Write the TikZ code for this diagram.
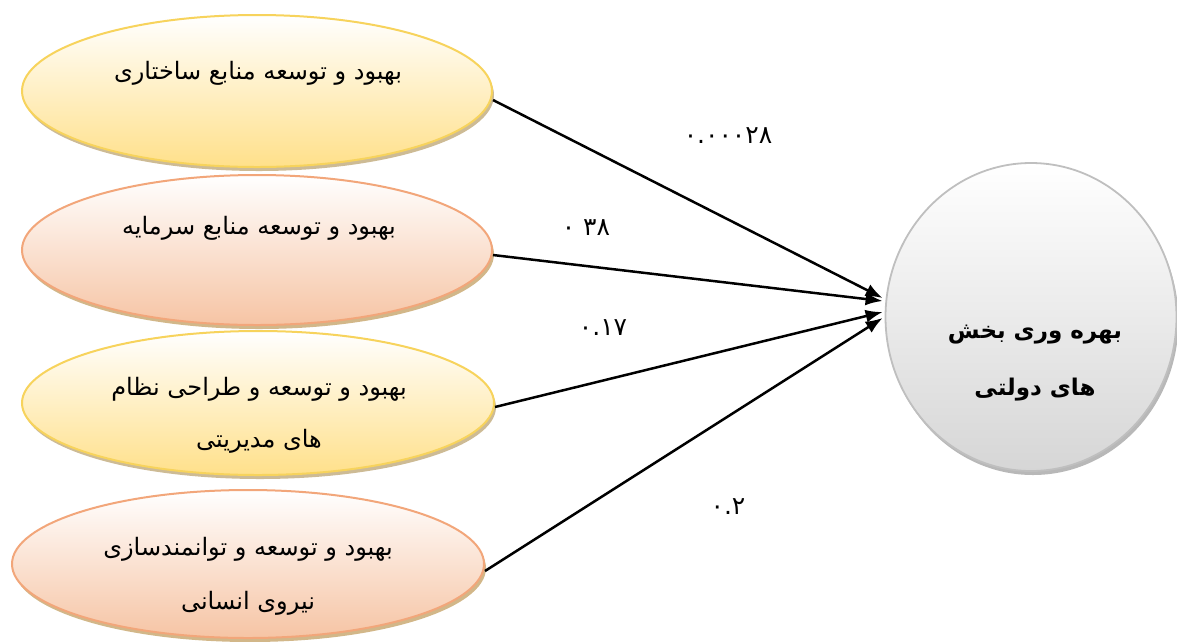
\documentclass[tikz,border=0pt]{standalone}
\usepackage{fontspec}
\usetikzlibrary{shapes.geometric,arrows.meta,shadows,calc}
\newfontfamily\arabicfont[Script=Arabic]{DejaVu Sans}
\TeXXeTstate=1
\definecolor{ybord}{HTML}{F7D35C}
\definecolor{yfill}{HTML}{FFE08A}
\definecolor{obord}{HTML}{F2A67A}
\definecolor{ofill}{HTML}{F6C4A4}
\definecolor{gbord}{HTML}{BFBFBF}
\definecolor{gfill}{HTML}{D6D6D6}
\definecolor{shad}{HTML}{C8B48A}
\tikzset{
  yell/.style={ellipse, draw=ybord, line width=2pt, top color=white, bottom color=yfill,
    drop shadow={shadow xshift=2pt, shadow yshift=-4pt, fill=shad, opacity=0.9}},
  oran/.style={ellipse, draw=obord, line width=2pt, top color=white, bottom color=ofill,
    drop shadow={shadow xshift=2pt, shadow yshift=-4pt, fill=shad!90!orange, opacity=0.9}},
  grey/.style={ellipse, draw=gbord, line width=1.8pt, top color=white, bottom color=gfill,
    drop shadow={shadow xshift=2pt, shadow yshift=-4pt, fill=gray!70, opacity=0.8}},
  txt/.style={font=\arabicfont\fontsize{24}{30}\selectfont, inner sep=0pt},
  btxt/.style={font=\arabicfont\bfseries\fontsize{23}{28}\selectfont, inner sep=0pt},
  num/.style={font=\arabicfont\fontsize{25}{30}\selectfont, inner sep=0pt},
  conn/.style={line width=2.5pt, -{Latex[length=17pt,width=13pt]}}
}
\begin{document}
\begin{tikzpicture}[x=1pt,y=-1pt]
\useasboundingbox (0,0) rectangle (1177,641);
\node[yell, minimum width=470pt, minimum height=152pt] (e1) at (257,91) {};
\node[oran, minimum width=470pt, minimum height=150pt] (e2) at (257,250) {};
\node[yell, minimum width=472pt, minimum height=144pt] (e3) at (258,403) {};
\node[oran, minimum width=472pt, minimum height=148pt] (e4) at (248,564) {};
\node[grey, minimum width=291pt, minimum height=308pt] (circ) at (1031,317) {};

\node[txt] (t1) at (258,73) {\beginR بهبود و توسعه منابع ساختاری\endR};
\node[txt] (t2) at (259,228) {\beginR بهبود و توسعه منابع سرمایه\endR};
\node[txt] (t3a) at (259,389) {\beginR بهبود و توسعه و طراحی نظام\endR};
\node[txt] (t3b) at (259,441) {\beginR های مدیریتی\endR};
\node[txt] (t4a) at (248,549) {\beginR بهبود و توسعه و توانمندسازی\endR};
\node[txt] (t4b) at (248,603) {\beginR نیروی انسانی\endR};
\node[btxt] (c1) at (1035,335) {\beginR بهره وری بخش\endR};
\node[btxt] (c2) at (1035,390) {\beginR های دولتی\endR};

\coordinate (a1) at ($(circ.west)+(-2,-19)$);
\coordinate (a2) at ($(circ.west)+(-2,-16)$);
\coordinate (a3) at ($(circ.west)+(-2,-5)$);
\coordinate (a4) at ($(circ.west)+(-2,1)$);

\draw[conn] ($(e1.east)+(0,9)$) -- (a1);
\draw[conn] ($(e2.east)+(0,5)$) -- (a2);
\draw[conn] ($(e3.east)+(0,4)$) -- (a3);
\draw[conn] ($(e4.east)+(0,7)$) -- (a4);

\node[num] (n1) at (728,136) {\beginR ۰.۰۰۰۲۸\endR};
\node[num] (n2) at (586,228) {\beginR ۳۸ ۰\endR};
\node[num] (n3) at (603,328) {\beginR ۰.۱۷\endR};
\node[num] (n4) at (728,507) {\beginR ۰.۲\endR};
\end{tikzpicture}
\end{document}
